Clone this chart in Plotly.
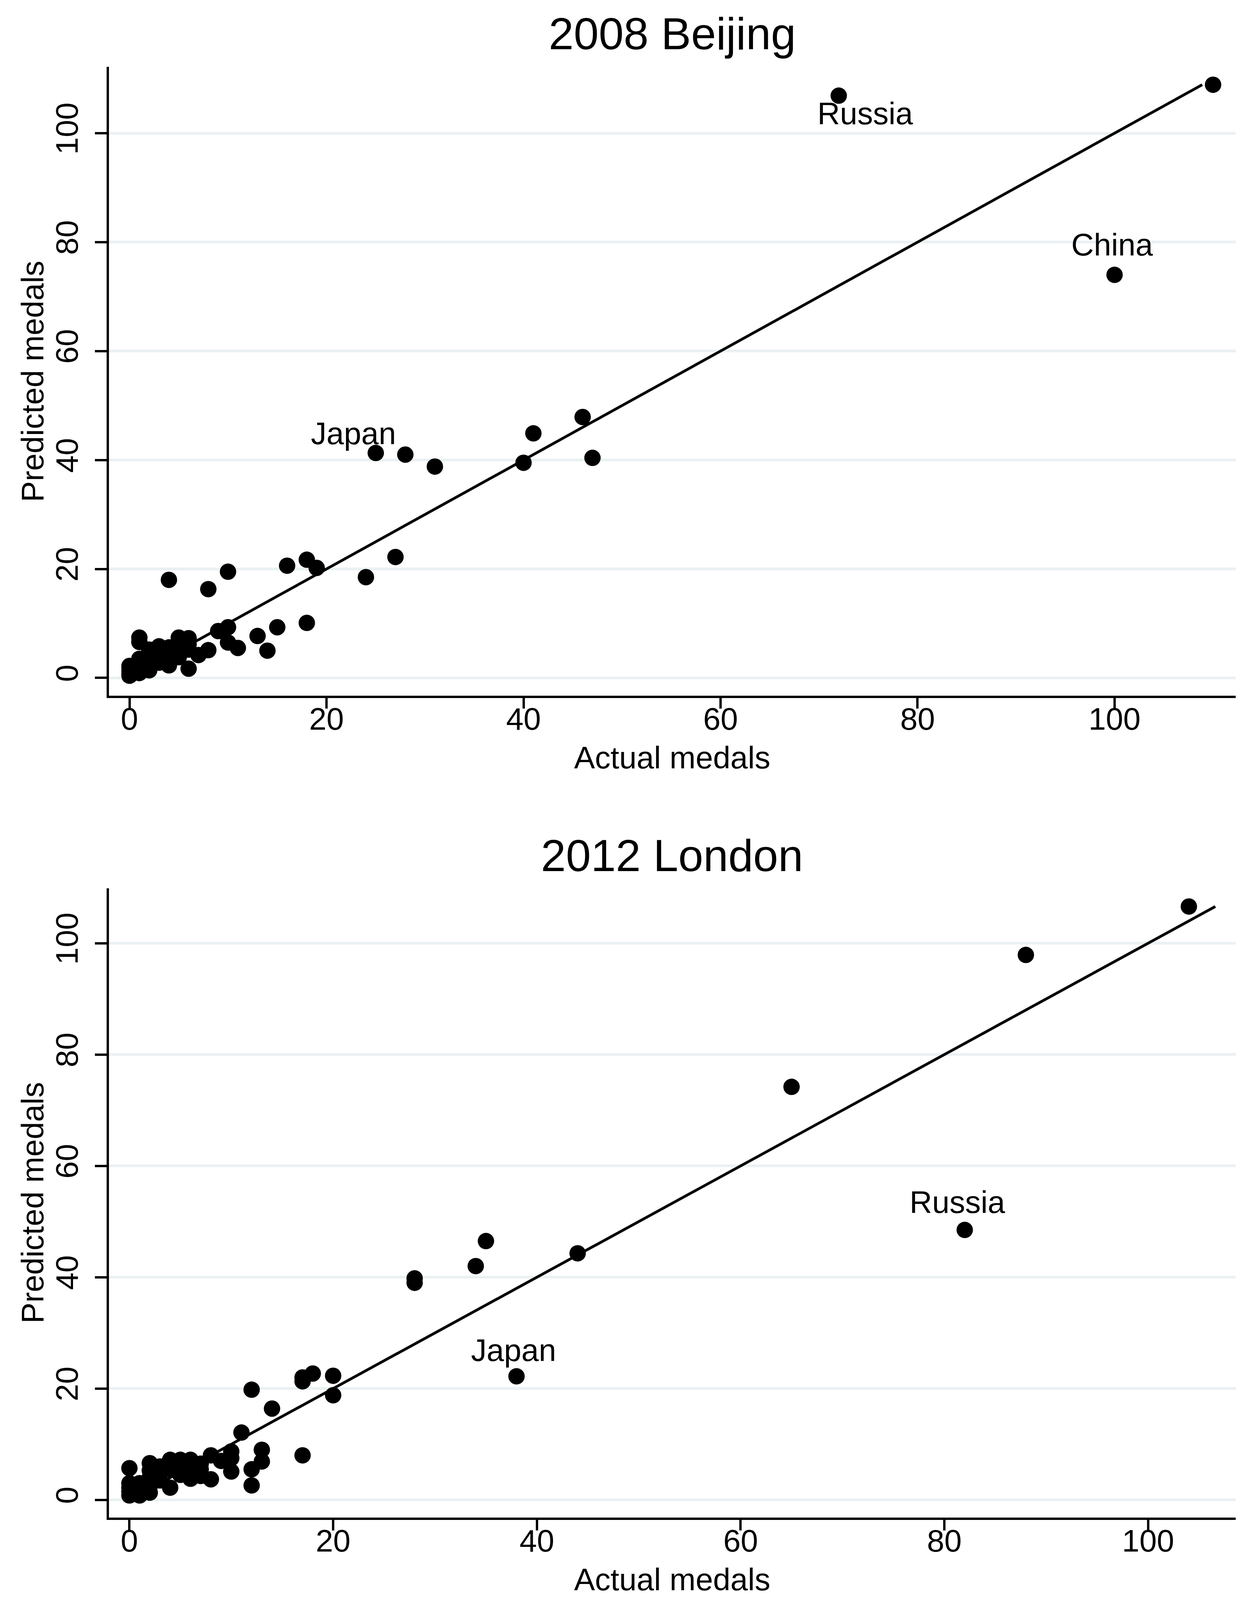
import plotly.graph_objects as go

# ---------------- data ----------------
# 2008 Beijing
actual_2008 = [110, 72, 100, 46, 41, 40, 47, 25, 28, 31, 27, 24, 19, 18, 16, 10, 4, 8,
               18, 15, 13, 14, 11, 10, 9, 10, 8, 7, 6,
               1, 1,
               0, 0, 0, 0, 0,
               1, 1, 1, 1,
               2, 2, 2, 2, 2,
               3, 3, 3, 3,
               4, 4, 4, 4,
               5, 5, 5, 5,
               6, 6, 6]
predicted_2008 = [108.9, 106.9, 74.0, 47.9, 44.9, 39.5, 40.4, 41.3, 41.0, 38.8, 22.2, 18.5, 20.2, 21.7, 20.6, 19.5, 18.0, 16.3,
                  10.1, 9.3, 7.7, 5.0, 5.5, 9.3, 8.6, 6.5, 5.1, 4.2, 1.7,
                  7.4, 6.6,
                  0.4, 0.8, 1.3, 1.8, 2.2,
                  0.9, 1.6, 2.3, 3.5,
                  1.4, 2.2, 3.0, 4.0, 5.2,
                  2.8, 3.6, 4.5, 5.8,
                  2.3, 3.5, 4.6, 5.6,
                  3.8, 5.0, 6.0, 7.4,
                  5.2, 6.2, 7.3]

# 2012 London
actual_2012 = [104, 88, 65, 82, 35, 34, 44, 28, 28, 38,
               18, 17, 17, 20, 20, 12, 14, 11, 17, 13, 13, 12, 12,
               10, 10, 10, 9, 8, 8,
               6, 6, 6, 6,
               4, 4, 4,
               2, 2, 2, 2, 2,
               0, 0, 0, 0, 0,
               1, 1, 1,
               3, 3, 3,
               5, 5, 5,
               7, 7, 7]
predicted_2012 = [106.6, 97.9, 74.2, 48.5, 46.5, 42.0, 44.3, 39.8, 39.0, 22.2,
                  22.7, 22.0, 21.3, 22.3, 18.8, 19.8, 16.4, 12.1, 8.0, 9.0, 6.9, 5.5, 2.6,
                  8.7, 7.5, 5.1, 7.0, 8.0, 3.7,
                  7.2, 6.3, 5.0, 3.8,
                  2.2, 7.2, 5.5,
                  6.6, 5.3, 4.0, 2.5, 1.3,
                  5.7, 3.0, 2.2, 1.5, 0.8,
                  0.8, 2.0, 3.0,
                  3.5, 5.0, 6.0,
                  4.5, 6.0, 7.2,
                  4.3, 5.5, 6.5]

# labelled countries: (name, actual, predicted)
labels_2008 = [("Russia", 72, 106.9), ("China", 100, 74.0), ("Japan", 25, 41.3)]
labels_2012 = [("Russia", 82, 48.5), ("Japan", 38, 22.2)]

titles = ["2008 Beijing", "2012 London"]
tick_vals = [0, 20, 40, 60, 80, 100]
x_title = "Actual medals"
y_title = "Predicted medals"

# ---------------- style / placement ----------------
# label offset from its marker, in axis units (clock positions as in the original)
label_offsets_2008 = {"Russia": (2.7, -3.3), "China": (-0.25, 5.5), "Japan": (-2.25, 3.6)}
label_offsets_2012 = {"Russia": (-0.7, 5.0), "Japan": (-0.3, 4.7)}

W, H = 3193, 4684          # reference geometry, used as fractions
FONT = "Liberation Sans, Arial, Helvetica, sans-serif"
FS = 80
x_dom = [272 / W, 3172 / W]
y_dom1 = [1 - 2036 / H, 1 - 187 / H]
y_dom2 = [1 - 4451 / H, 1 - 2601 / H]
x_rng1, y_rng1 = [-2.1, 112.3], [-3.3, 112.2]
x_rng2, y_rng2 = [-2.02, 108.6], [-3.18, 109.9]

fig = go.Figure()

panels = [
    (actual_2008, predicted_2008, "x", "y"),
    (actual_2012, predicted_2012, "x2", "y2"),
]
for ax_x, ax_y, xr, yr in panels:
    lo, hi = min(ax_y), max(ax_y)
    fig.add_trace(go.Scatter(x=[lo, hi], y=[lo, hi], mode="lines",
                             line=dict(color="black", width=7),
                             xaxis=xr, yaxis=yr, showlegend=False, hoverinfo="skip"))
    fig.add_trace(go.Scatter(x=ax_x, y=ax_y, mode="markers",
                             marker=dict(color="black", size=42, line=dict(width=0)),
                             xaxis=xr, yaxis=yr, showlegend=False))

annotations = []
for labs, offs, xr, yr in [(labels_2008, label_offsets_2008, "x", "y"),
                           (labels_2012, label_offsets_2012, "x2", "y2")]:
    for name, ax, py in labs:
        dx, dy = offs[name]
        annotations.append(dict(text=name, x=ax + dx, y=py + dy, xref=xr, yref=yr,
                                showarrow=False, xanchor="center", yanchor="middle",
                                font=dict(size=FS, color="black", family=FONT)))

cx = (x_dom[0] + x_dom[1]) / 2
for title, ty in zip(titles, [89, 2505]):
    annotations.append(dict(text=title, x=cx, y=1 - ty / H, xref="paper", yref="paper",
                            showarrow=False, xanchor="center", yanchor="middle",
                            font=dict(size=115, color="black", family=FONT)))
for xy in [2218, 4633]:
    annotations.append(dict(text=x_title, x=cx, y=1 - xy / H, xref="paper", yref="paper",
                            showarrow=False, xanchor="center", yanchor="middle",
                            font=dict(size=FS, color="black", family=FONT)))
for yy in [1112, 3526]:
    annotations.append(dict(text=y_title, x=76 / W, y=1 - yy / H, xref="paper", yref="paper",
                            showarrow=False, xanchor="center", yanchor="middle", textangle=-90,
                            font=dict(size=FS, color="black", family=FONT)))

common_x = dict(domain=x_dom, showline=True, linecolor="black", linewidth=6,
                ticks="outside", ticklen=27, tickwidth=6, tickcolor="black",
                tickvals=tick_vals, showgrid=False, zeroline=False,
                ticklabelstandoff=-42,
                tickfont=dict(size=FS, color="black", family=FONT))
common_y = dict(showline=True, linecolor="black", linewidth=6,
                ticks="outside", ticklen=30, tickwidth=6, tickcolor="black",
                tickvals=tick_vals, showgrid=True, gridcolor="#EAF1F3", gridwidth=7,
                zeroline=False, tickangle=-90, ticklabelstandoff=12,
                tickfont=dict(size=FS, color="black", family=FONT))

fig.update_layout(
    autosize=True,
    margin=dict(l=0, r=0, t=0, b=0),
    paper_bgcolor="white", plot_bgcolor="white",
    font=dict(family=FONT, color="black"),
    xaxis=dict(**common_x, range=x_rng1, anchor="y"),
    yaxis=dict(**common_y, domain=y_dom1, range=y_rng1, anchor="x"),
    xaxis2=dict(**common_x, range=x_rng2, anchor="y2"),
    yaxis2=dict(**common_y, domain=y_dom2, range=y_rng2, anchor="x2"),
    annotations=annotations,
    showlegend=False,
)

fig.write_html("out.html", default_width="100%", default_height="calc(100vh - 16px)")
